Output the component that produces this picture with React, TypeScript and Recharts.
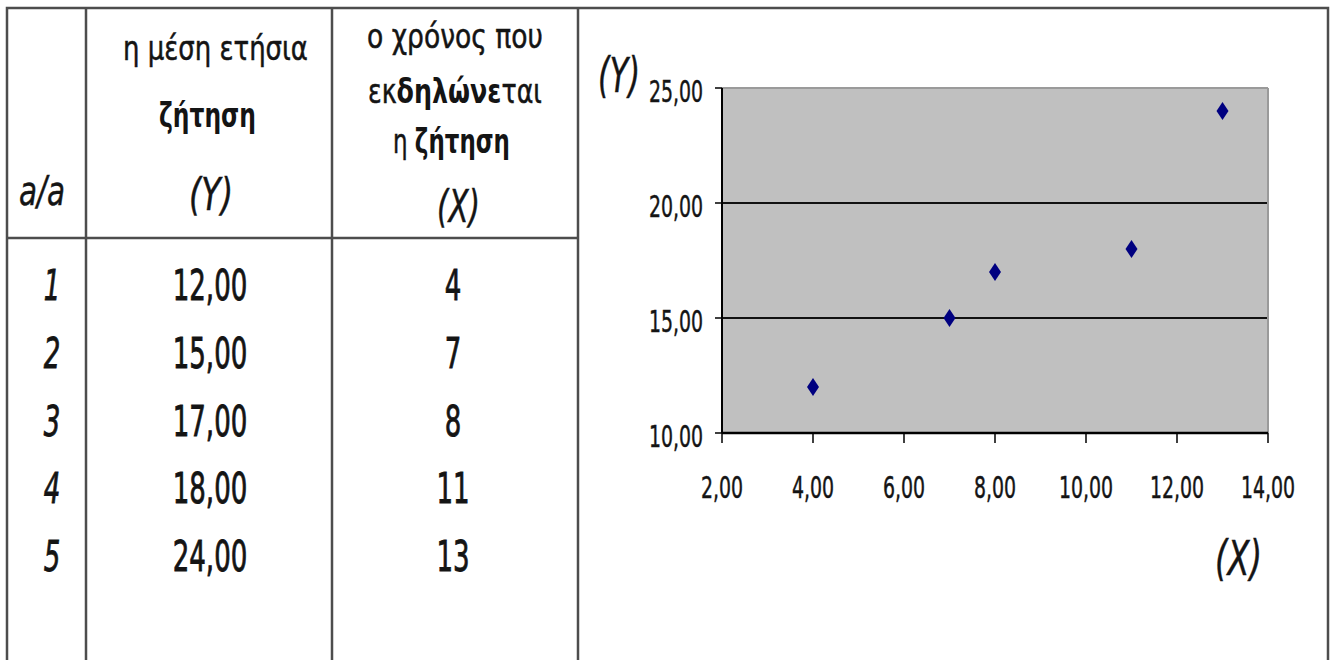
import React, { useLayoutEffect, useRef, useState } from 'react';
import {
  ScatterChart, Scatter, XAxis, YAxis, CartesianGrid, ReferenceLine,
} from 'recharts';

const rowIds = [1, 2, 3, 4, 5];
const demandY = [12, 15, 17, 18, 24];
const timeX = [4, 7, 8, 11, 13];
const yTicks = [10, 15, 20, 25];
const xTicks = [2, 4, 6, 8, 10, 12, 14];

const fmt = (v: number) => v.toFixed(2).replace('.', ',');
const FONT = '"DejaVu Sans", Verdana, sans-serif';
const INK = '#141414';
const LINE = '#4d4d4d';

// DejaVu digit / comma advance widths, used to squeeze numbers like the original
const squeezed = (s: string, size: number, k: number) =>
  s.split('').reduce((w, ch) => w + (ch === ',' ? 0.318 : 0.636), 0) * size * k;

const points = timeX.map((x, i) => ({ x, y: demandY[i] }));

const YTick = ({ x, y, payload }: any) => {
  const s = fmt(payload.value);
  return (
    <text
      x={x}
      y={y + 14}
      textAnchor="end"
      textLength={squeezed(s, 30, 0.63)}
      lengthAdjust="spacingAndGlyphs"
      fontSize={30}
      fontFamily={FONT}
      fill={INK}
      stroke={INK}
      strokeWidth={0.5}
    >
      {s}
    </text>
  );
};

const XTick = ({ x, payload }: any) => {
  const s = fmt(payload.value);
  return (
    <text
      x={x}
      y={498}
      textAnchor="middle"
      textLength={squeezed(s, 30, 0.63)}
      lengthAdjust="spacingAndGlyphs"
      fontSize={30}
      fontFamily={FONT}
      fill={INK}
      stroke={INK}
      strokeWidth={0.5}
    >
      {s}
    </text>
  );
};

// dark blue diamond, like the spreadsheet marker
const Diamond = ({ cx, cy }: any) => (
  <polygon
    points={`${cx},${cy - 9} ${cx + 6},${cy} ${cx},${cy + 9} ${cx - 6},${cy}`}
    fill="#000080"
  />
);

// one table cell, number squeezed like the original
const Num = ({ x, y, text, italic }: { x: number; y: number; text: string; italic?: boolean }) => (
  <text
    x={x}
    y={y}
    textAnchor="middle"
    textLength={squeezed(text, 42, 0.62)}
    lengthAdjust="spacingAndGlyphs"
    fontSize={42}
    fontStyle={italic ? 'italic' : 'normal'}
    fill={INK}
    stroke={INK}
    strokeWidth={0.9}
  >
    {text}
  </text>
);

// text squeezed horizontally to a measured width (w)
const Word = ({ x, y, w, size = 33, italic, bold, children }: any) => {
  const ref = useRef<SVGTextElement>(null);
  const [k, setK] = useState(0.72);
  useLayoutEffect(() => {
    const n = ref.current?.getComputedTextLength() ?? 0;
    if (n > 0) setK(w / n);
  }, [w]);
  return (
    <g transform={`translate(${x},${y}) scale(${k},1)`}>
      <text
        ref={ref}
        fontSize={size}
        fontStyle={italic ? 'italic' : 'normal'}
        fontWeight={bold ? 'bold' : 'normal'}
        fill={INK}
        stroke={INK}
        strokeWidth={0.5}
      >
        {children}
      </text>
    </g>
  );
};

export default function App() {
  return (
    <div style={{ position: 'relative', width: 1334, height: 660, background: '#fff', overflow: 'hidden' }}>
      <style>{'body{margin:0}'}</style>

      {/* ── scatter chart ── */}
      <div style={{ position: 'absolute', left: 578, top: 0 }}>
        <ScatterChart width={756} height={660} margin={{ top: 88, right: 66, bottom: 167, left: 60 }}>
          <CartesianGrid
            fill="#c0c0c0"
            fillOpacity={1}
            vertical={false}
            horizontalValues={[15, 20]}
            stroke="#111"
            strokeWidth={2}
            strokeOpacity={1}
          />
          <ReferenceLine y={25} stroke="#9a9a9a" strokeWidth={2} />
          <ReferenceLine x={14} stroke="#9a9a9a" strokeWidth={2} />
          <XAxis
            type="number"
            dataKey="x"
            domain={[2, 14]}
            ticks={xTicks}
            height={60}
            tickSize={10}
            axisLine={{ stroke: '#000', strokeWidth: 2.5 }}
            tickLine={{ stroke: '#000', strokeWidth: 1.5 }}
            tick={<XTick />}
          />
          <YAxis
            type="number"
            dataKey="y"
            domain={[10, 25]}
            ticks={yTicks}
            width={84}
            tickSize={7}
            tickMargin={12}
            axisLine={{ stroke: '#000', strokeWidth: 2 }}
            tickLine={{ stroke: '#000', strokeWidth: 1.5 }}
            tick={<YTick />}
          />
          <Scatter data={points} shape={<Diamond />} isAnimationActive={false} />
        </ScatterChart>
      </div>

      {/* ── table, frame and axis captions ── */}
      <svg
        width={1334}
        height={660}
        style={{ position: 'absolute', left: 0, top: 0, pointerEvents: 'none' }}
        fontFamily={FONT}
      >
        <g stroke={LINE} strokeWidth={2.5} fill="none">
          <path d="M7 660 V8 H1328 V660" />
          <line x1={86} y1={8} x2={86} y2={660} />
          <line x1={332} y1={8} x2={332} y2={660} />
          <line x1={578} y1={8} x2={578} y2={660} />
          <line x1={7} y1={238} x2={578} y2={238} />
        </g>

        <Word x={123} y={60} w={185}>η μέση ετήσια</Word>
        <Word x={159} y={127} w={97}>
          <tspan fontWeight="bold" strokeWidth={0}>ζήτηση</tspan>
        </Word>
        <Word x={189} y={210} w={44} size={44} italic>(Y)</Word>
        <Word x={19} y={205} w={46} size={40} italic>a/a</Word>

        <Word x={367} y={48} w={176}>ο χρόνος που</Word>
        <Word x={368} y={103} w={174}>
          εκ<tspan fontWeight="bold" strokeWidth={0}>δηλώνε</tspan>ται
        </Word>
        <Word x={393} y={153} w={117}>
          η <tspan fontWeight="bold" strokeWidth={0}>ζήτηση</tspan>
        </Word>
        <Word x={437} y={222} w={43} size={44} italic>(X)</Word>

        <Word x={598} y={92} w={42} size={48} italic>(Y)</Word>
        <Word x={1215} y={575} w={47} size={48} italic>(X)</Word>

        {rowIds.map((id, i) => {
          const base = 300 + i * 67.75;
          return (
            <g key={id}>
              <Num x={52} y={base} text={String(id)} italic />
              <Num x={210} y={base} text={fmt(demandY[i])} />
              <Num x={453} y={base} text={String(timeX[i])} />
            </g>
          );
        })}
      </svg>
    </div>
  );
}
